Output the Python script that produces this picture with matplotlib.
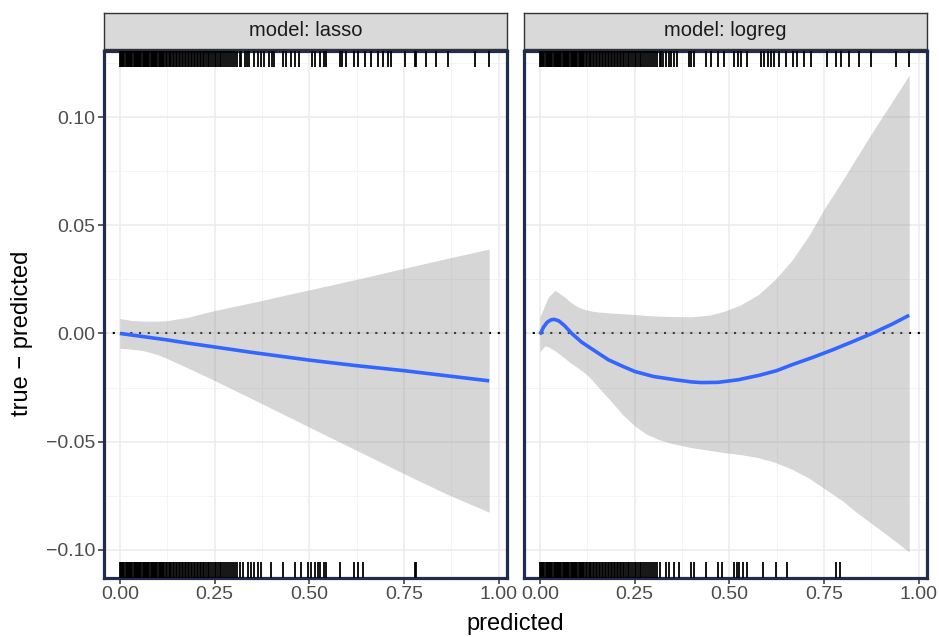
import numpy as np
import matplotlib
matplotlib.use("Agg")
import matplotlib.pyplot as plt

plt.rcParams['font.family'] = ['Liberation Sans', 'DejaVu Sans']

# facet names
models = ["lasso", "logreg"]

# smooth fits
lasso_x = [0.0, 0.03, 0.063, 0.10, 0.125, 0.18, 0.248, 0.35, 0.499, 0.62, 0.75, 0.86, 0.975]
lasso_fit = [0.0, -0.0007, -0.0015, -0.0024, -0.0030, -0.0045, -0.0062, -0.0088, -0.0123, -0.0148, -0.0172, -0.0195, -0.0219]
lasso_hi = [0.0069, 0.0060, 0.0057, 0.0057, 0.0059, 0.0075, 0.0105, 0.0143, 0.0201, 0.0248, 0.0301, 0.0345, 0.0390]
lasso_lo = [-0.0069, -0.0072, -0.0080, -0.0098, -0.0116, -0.0160, -0.0216, -0.0303, -0.0432, -0.0536, -0.0648, -0.0740, -0.0826]

logreg_x = [0.0, 0.01, 0.02, 0.03, 0.038, 0.05, 0.065, 0.084, 0.11, 0.14, 0.181, 0.22, 0.251, 0.30,
            0.357, 0.40, 0.427, 0.47, 0.524, 0.58, 0.625, 0.665, 0.72, 0.771, 0.82, 0.877, 0.93, 0.975]
logreg_fit = [-0.0005, 0.0030, 0.0053, 0.0063, 0.0065, 0.0058, 0.0036, 0.0, -0.0040, -0.0075, -0.0122, -0.0153, -0.0176, -0.0199,
              -0.0214, -0.0224, -0.0227, -0.0226, -0.0214, -0.0193, -0.0172, -0.0145, -0.0111, -0.0077, -0.0042, 0.0, 0.0043, 0.0084]
logreg_band_x = [0.0, 0.013, 0.022, 0.040, 0.066, 0.08, 0.101, 0.12, 0.137, 0.16, 0.181, 0.22, 0.251, 0.28, 0.313,
                 0.35, 0.401, 0.45, 0.489, 0.53, 0.577, 0.62, 0.665, 0.71, 0.753, 0.80, 0.841, 0.885, 0.930, 0.975]
logreg_hi = [0.0077, 0.0130, 0.0168, 0.0199, 0.0168, 0.0145, 0.0122, 0.0110, 0.0103, 0.0098, 0.0095, 0.0091, 0.0087, 0.0083, 0.0080,
             0.0078, 0.0077, 0.0085, 0.0104, 0.0132, 0.0180, 0.0248, 0.0337, 0.0452, 0.0582, 0.0710, 0.0827, 0.0950, 0.1071, 0.1194]
logreg_lo = [-0.0084, -0.0058, -0.0062, -0.0080, -0.0115, -0.0135, -0.0160, -0.0185, -0.0214, -0.0260, -0.0300, -0.0378, -0.0428, -0.0464, -0.0490,
             -0.0509, -0.0528, -0.0541, -0.0551, -0.0560, -0.0574, -0.0595, -0.0627, -0.0668, -0.0719, -0.0775, -0.0834, -0.0890, -0.0949, -0.1010]

# rug positions (predicted values); the low end is packed
rug_dense = [0.000, 0.003, 0.006, 0.009, 0.012, 0.015, 0.018, 0.021, 0.024, 0.027,
             0.030, 0.033, 0.036, 0.039, 0.042, 0.045, 0.048, 0.051, 0.054, 0.057,
             0.060, 0.063, 0.066, 0.069, 0.072, 0.075, 0.078, 0.081, 0.084, 0.087,
             0.090, 0.093, 0.096, 0.099, 0.102, 0.105, 0.108, 0.111, 0.114, 0.117]
rug_mid = [0.121, 0.125, 0.129, 0.132, 0.136, 0.140, 0.144, 0.148, 0.151, 0.155,
           0.159, 0.163, 0.167, 0.171, 0.175, 0.179, 0.183, 0.187, 0.191, 0.195,
           0.199, 0.203, 0.207, 0.211, 0.215, 0.219, 0.223, 0.228, 0.232, 0.236,
           0.241, 0.245, 0.250, 0.254, 0.259, 0.264, 0.268, 0.273, 0.278, 0.283,
           0.288, 0.293, 0.298, 0.304, 0.310, 0.316]

lasso_top = [0.320, 0.329, 0.335, 0.342, 0.355, 0.364, 0.373, 0.381, 0.393, 0.401,
             0.408, 0.430, 0.439, 0.452, 0.461, 0.474, 0.507, 0.514, 0.527, 0.540,
             0.544, 0.580, 0.587, 0.596, 0.619, 0.628, 0.646, 0.663, 0.681, 0.694,
             0.707, 0.716, 0.754, 0.778, 0.782, 0.807, 0.835, 0.866, 0.937, 0.975]
lasso_bottom = [0.324, 0.337, 0.346, 0.355, 0.364, 0.373, 0.399, 0.430, 0.461, 0.478,
                0.496, 0.505, 0.514, 0.522, 0.527, 0.540, 0.545, 0.580, 0.619, 0.628,
                0.641, 0.778, 0.782]
logreg_top = [0.320, 0.326, 0.333, 0.340, 0.347, 0.353, 0.363, 0.394, 0.400, 0.407,
              0.438, 0.451, 0.469, 0.486, 0.513, 0.522, 0.530, 0.548, 0.583, 0.592,
              0.601, 0.609, 0.618, 0.631, 0.649, 0.667, 0.680, 0.697, 0.715, 0.759,
              0.781, 0.794, 0.816, 0.842, 0.873, 0.939, 0.974]
logreg_bottom = [0.332, 0.341, 0.354, 0.368, 0.398, 0.407, 0.438, 0.469, 0.482, 0.513,
                 0.520, 0.526, 0.535, 0.548, 0.588, 0.623, 0.652, 0.781, 0.792]

x_ticks = [0.0, 0.25, 0.5, 0.75, 1.0]
x_labels = ["0.00", "0.25", "0.50", "0.75", "1.00"]
y_ticks = [-0.10, -0.05, 0.0, 0.05, 0.10]
y_labels = ["\u22120.10", "\u22120.05", "0.00", "0.05", "0.10"]

fits = {
    "lasso": (lasso_x, lasso_fit, lasso_x, lasso_hi, lasso_lo,
              rug_dense + rug_mid + lasso_top, rug_dense + rug_mid + lasso_bottom),
    "logreg": (logreg_x, logreg_fit, logreg_band_x, logreg_hi, logreg_lo,
               rug_dense + rug_mid + logreg_top, rug_dense + rug_mid + logreg_bottom),
}

W, H = 939, 637
fig = plt.figure(figsize=(W / 100, H / 100), dpi=100)

panel_left = [104, 524]
panel_w = 403
panel_top, panel_bot = 51, 578
border_col = "#222c4c"

for i, m in enumerate(models):
    fx, fy, bx, hi, lo, top, bot = fits[m]
    ax = fig.add_axes([panel_left[i] / W, (H - panel_bot) / H, panel_w / W, (panel_bot - panel_top) / H])
    ax.set_xlim(-0.042, 1.022)
    ax.set_ylim(-0.113, 0.1305)

    ax.set_xticks(x_ticks)
    ax.set_xticklabels(x_labels)
    ax.set_xticks([0.125, 0.375, 0.625, 0.875], minor=True)
    ax.set_yticks(y_ticks)
    ax.set_yticks([-0.075, -0.025, 0.025, 0.075, 0.125], minor=True)
    if i == 0:
        ax.set_yticklabels(y_labels)
    else:
        ax.tick_params(axis="y", which="major", left=False, labelleft=False)
    ax.tick_params(which="major", length=4, width=1.1, color="#333333",
                   labelsize=14, labelcolor="#4d4d4d", pad=2)
    ax.tick_params(which="minor", length=0)
    ax.set_axisbelow(True)
    ax.grid(which="major", color="#ebebeb", lw=1.1)
    ax.grid(which="minor", color="#f2f2f2", lw=0.6)
    for s in ax.spines.values():
        s.set_color(border_col)
        s.set_linewidth(2.3)

    ax.axhline(0, color="black", lw=1.5, ls=(0, (1, 3.2)), zorder=2)
    ax.fill_between(bx, lo, hi, color="#999999", alpha=0.4, lw=0, zorder=3)
    ax.plot(fx, fy, color="#3366ff", lw=2.6, solid_capstyle="butt", zorder=4)

    # rugs: top and bottom, 3% of panel height
    tr = ax.get_xaxis_transform()
    ax.vlines(top, 0.97, 1.0, transform=tr, color="black", lw=1.3, zorder=5)
    ax.vlines(bot, 0.0, 0.03, transform=tr, color="black", lw=1.3, zorder=5)

    # facet strip
    sx = fig.add_axes([panel_left[i] / W, (H - 49) / H, panel_w / W, 36 / H])
    sx.set_xticks([])
    sx.set_yticks([])
    sx.set_facecolor("#d9d9d9")
    for s in sx.spines.values():
        s.set_color("#333333")
        s.set_linewidth(1.0)
    sx.text(0.5, 0.5, "model: " + m, ha="center", va="center",
            fontsize=14.5, color="#1a1a1a", transform=sx.transAxes)

fig.text(515 / W, 1 - 624 / H, "predicted", ha="center", va="center", fontsize=17)
fig.text(22 / W, 1 - 333 / H, "true \u2212 predicted", ha="center", va="center",
         rotation=90, fontsize=17)

fig.savefig("out.png", dpi=100)
